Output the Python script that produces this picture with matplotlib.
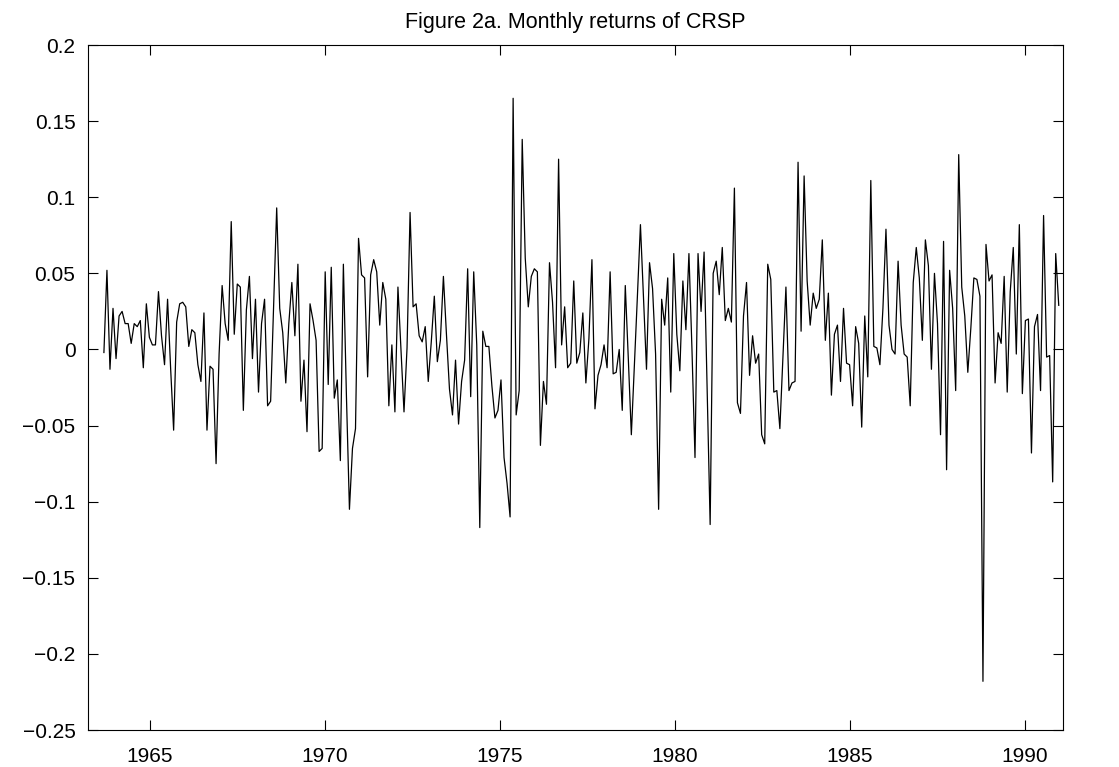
import numpy as np
import matplotlib
matplotlib.use("Agg")
import matplotlib.pyplot as plt

# monthly returns in order (1963 .. 1990)
ret_1963_65 = [-0.002, 0.052, -0.013, 0.027, -0.006, 0.022, 0.025, 0.017, 0.017, 0.004,
               0.017, 0.015, 0.019, -0.012, 0.030, 0.008, 0.003, 0.003, 0.038, 0.009,
               -0.010, 0.033, -0.012, -0.053, 0.018]
ret_1965_67 = [0.030, 0.031, 0.028, 0.002, 0.013, 0.011, -0.010, -0.021, 0.024, -0.053,
               -0.011, -0.013, -0.075, -0.003, 0.042, 0.017, 0.006, 0.084, 0.010, 0.043,
               0.041, -0.040, 0.026, 0.048, -0.006, 0.033, -0.028]
ret_1968_70 = [0.017, 0.033, -0.037, -0.034, 0.030, 0.093, 0.027, 0.011, -0.022, 0.017,
               0.044, 0.009, 0.056, -0.034, -0.007, -0.054, 0.030, 0.019, 0.006, -0.067,
               -0.065, 0.051, -0.023, 0.054, -0.032, -0.020, -0.073]
ret_1970_72 = [0.056, -0.030, -0.105, -0.065, -0.052, 0.073, 0.049, 0.047, -0.018, 0.049,
               0.059, 0.051, 0.016, 0.044, 0.033, -0.037, 0.003, -0.041, 0.041, 0.000,
               -0.041, 0.001, 0.090, 0.028, 0.030, 0.009]
ret_1972_74 = [0.005, 0.015, -0.021, 0.005, 0.035, -0.008, 0.006, 0.048, 0.010, -0.026,
               -0.043, -0.007, -0.049, -0.021, -0.007, 0.053, -0.031, 0.051, 0.003, -0.117,
               0.012, 0.002, 0.002, -0.024, -0.045, -0.040, -0.020]
ret_1975_77 = [-0.071, -0.088, -0.110, 0.165, -0.043, -0.027, 0.138, 0.060, 0.028, 0.048,
               0.053, 0.051, -0.063, -0.021, -0.036, 0.057, 0.031, -0.012, 0.125, 0.003,
               0.028, -0.012, -0.009, 0.045, -0.009, -0.002]
ret_1977_79 = [0.024, -0.022, 0.007, 0.059, -0.039, -0.017, -0.010, 0.003, -0.012, 0.051,
               -0.016, -0.015, 0.000, -0.040, 0.042, -0.006, -0.056, -0.011, 0.035, 0.082,
               0.035, -0.013, 0.057, 0.040, -0.003, -0.105]
ret_1979_81 = [0.033, 0.016, 0.047, -0.028, 0.063, 0.010, -0.014, 0.045, 0.013, 0.063,
               0.000, -0.071, 0.063, 0.025, 0.064, -0.025, -0.115, 0.050, 0.058, 0.036,
               0.067, 0.019, 0.027, 0.018, 0.106, -0.035, -0.042]
ret_1981_84 = [0.022, 0.044, -0.017, 0.009, -0.009, -0.003, -0.056, -0.062, 0.056, 0.046,
               -0.028, -0.027, -0.052, -0.005, 0.041, -0.027, -0.022, -0.021, 0.123, 0.012,
               0.114, 0.045, 0.016, 0.037, 0.027, 0.033, 0.072]
ret_1984_86 = [0.006, 0.037, -0.030, 0.010, 0.016, -0.021, 0.027, -0.009, -0.010, -0.037,
               0.015, 0.004, -0.051, 0.022, -0.018, 0.111, 0.002, 0.001, -0.010, 0.027,
               0.079, 0.016, 0.000, -0.003, 0.058, 0.016]
ret_1986_88 = [-0.003, -0.005, -0.037, 0.044, 0.067, 0.047, 0.006, 0.072, 0.055, -0.013,
               0.050, 0.017, -0.056, 0.071, -0.079, 0.052, 0.027, -0.027, 0.128, 0.041,
               0.022, -0.015, 0.014, 0.047, 0.046, 0.035]
ret_1988_90 = [-0.218, 0.069, 0.045, 0.049, -0.022, 0.011, 0.004, 0.048, -0.028, 0.038,
               0.067, -0.003, 0.082, -0.029, 0.019, 0.020, -0.068, 0.015, 0.023, -0.027,
               0.088, -0.005, -0.004, -0.087, 0.063, 0.029]

returns = np.array(ret_1963_65 + ret_1965_67 + ret_1968_70 + ret_1970_72 + ret_1972_74
                   + ret_1975_77 + ret_1977_79 + ret_1979_81 + ret_1981_84 + ret_1984_86
                   + ret_1986_88 + ret_1988_90)

# time axis as drawn in the figure
t_first, t_last = 1963.686, 1990.97
dates = np.linspace(t_first, t_last, len(returns))

plt.rcParams['font.family'] = ['Liberation Sans', 'DejaVu Sans']

fig = plt.figure(figsize=(11.19, 7.67), dpi=100)
ax = fig.add_axes([0.0786, 0.0482, 0.8713, 0.8931])

ax.plot(dates, returns, color='black', linewidth=0.9)

ax.set_xlim(1963.23, 1991.09)
ax.set_ylim(-0.25, 0.2)
ax.set_xticks([1965, 1970, 1975, 1980, 1985, 1990])
yt = [-0.25, -0.2, -0.15, -0.1, -0.05, 0, 0.05, 0.1, 0.15, 0.2]
ax.set_yticks(yt)
ax.set_yticklabels([('%g' % v).replace('-', '\u2212') for v in yt])
ax.tick_params(direction='in', length=7, width=0.8, labelsize=15,
               top=True, right=True)
ax.tick_params(axis='x', pad=12)
ax.tick_params(axis='y', pad=9)
for s in ax.spines.values():
    s.set_linewidth(0.8)

ax.set_title('Figure 2a. Monthly returns of CRSP', fontsize=15.5, pad=12)

fig.savefig('out.png', dpi=100)
